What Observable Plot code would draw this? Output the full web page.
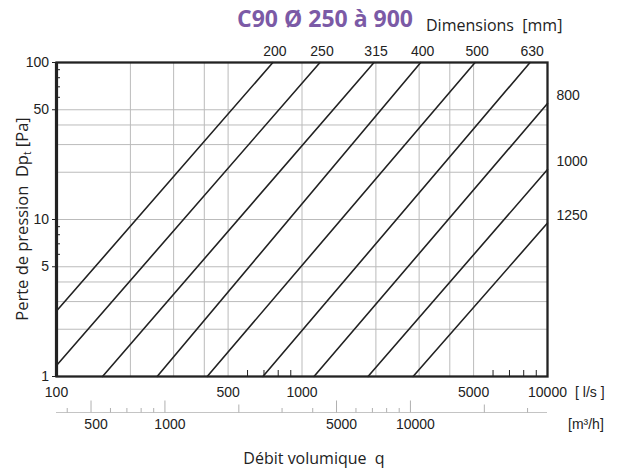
<!DOCTYPE html>
<html><head><meta charset="utf-8">
<script src="https://cdn.jsdelivr.net/npm/d3@7"></script>
<script src="https://cdn.jsdelivr.net/npm/@observablehq/plot@0.6"></script>
<style>body{margin:0;background:#fff} svg{display:block}</style>
</head><body><div id="chart"></div>
<script>
// Duct dimensions [mm] and the two end points of each pressure-loss line (l/s, Pa)
const dims   = [200, 250, 315, 400, 500, 630, 800, 1000, 1250];
const qStart = [100, 100, 154, 257, 411, 693, 1119, 1857, 2834];
const pStart = [2.61, 1.175, 1, 1, 1, 1, 1, 1, 1];
const qEnd   = [761, 1184, 1965, 3045, 5070, 8492, 10000, 10000, 10000];
const pEnd   = [100, 100, 100, 100, 100, 100, 54.8, 20.8, 9.49];

// axes
const xTicks = [100, 500, 1000, 5000, 10000];
const xMinor = [600, 700, 800, 900, 6000, 7000, 8000, 9000];
const xGrid  = [200, 300, 400, 500, 1000, 2000, 3000, 4000, 5000];
const yTicks = [1, 5, 10, 50, 100];
const yMinor = [6, 7, 8, 9, 60, 70, 80, 90];
const yGrid  = [2, 3, 4, 5, 10, 20, 30, 40, 50];
const m3hTicks  = [400, 500, 600, 700, 800, 900, 1000, 2000, 3000, 4000, 5000, 6000, 7000, 8000, 9000, 10000, 20000, 30000];
const m3hLabels = [500, 1000, 5000, 10000];
const m3hMid    = [2000, 20000];
const M3H_PER_LS = 3.6;

const lines = dims.flatMap((d, i) => [
  {dim: d, q: qStart[i], p: pStart[i]},
  {dim: d, q: qEnd[i], p: pEnd[i]}
]);
const ends = dims.map((d, i) => ({dim: d, q: qEnd[i], p: pEnd[i]}));
const topLabels = ends.filter(d => d.p === 100);
const rightLabels = ends.filter(d => d.p < 100);

const ink = "#222";
const gridC = "#bbbbbb";

const chart = Plot.plot({
  width: 618, height: 470,
  marginLeft: 56, marginRight: 71, marginTop: 62, marginBottom: 94,
  style: {fontFamily: "'Liberation Sans', Arial, sans-serif", fontSize: "14px", color: ink, background: "#fff"},
  x: {type: "log", domain: [100, 10000]},
  y: {type: "log", domain: [1, 100]},
  marks: [
    Plot.ruleX(xGrid, {stroke: gridC, strokeWidth: 1}),
    Plot.ruleY(yGrid, {stroke: gridC, strokeWidth: 1}),
    Plot.axisY({ticks: yTicks, tickSize: 4, tickPadding: 3.5, tickFormat: d => String(d), label: null, fontSize: 14}),
    Plot.axisY({ticks: yMinor, tickSize: -4, tickFormat: () => "", label: null}),
    Plot.axisX({ticks: xTicks, tickSize: 0, tickPadding: 11, tickFormat: d => String(d), label: null, fontSize: 14}),
    Plot.axisX({ticks: xMinor, tickSize: -6, tickFormat: () => "", label: null}),
    Plot.line(lines, {x: "q", y: "p", z: "dim", stroke: ink, strokeWidth: 1.6}),
    Plot.frame({stroke: ink, strokeWidth: 2.3}),
    Plot.ruleX([100], {stroke: ink, strokeWidth: 3.2}),
    Plot.text(topLabels, {x: "q", y: "p", text: d => String(d.dim), dx: 2, dy: -11, fontSize: 14, fill: ink}),
    Plot.text(rightLabels, {x: "q", y: "p", text: d => String(d.dim), textAnchor: "start", dx: 9, dy: -8, fontSize: 14, fill: ink})
  ]
});
document.getElementById("chart").appendChild(chart);

// Secondary flow axis in m³/h, positioned through Plot's own x scale
const xs = chart.scale("x");
const svg = d3.select(chart);
const yAx = 412.5;
const g2 = svg.append("g");
g2.append("line")
  .attr("x1", xs.apply(100)).attr("x2", xs.apply(10000))
  .attr("y1", yAx).attr("y2", yAx)
  .attr("stroke", "#c4c4c4").attr("stroke-width", 1.2);
g2.selectAll("line.t").data(m3hTicks).join("line").attr("class", "t")
  .attr("x1", d => xs.apply(d / M3H_PER_LS)).attr("x2", d => xs.apply(d / M3H_PER_LS))
  .attr("y1", yAx).attr("y2", d => yAx - (m3hLabels.includes(d) ? 12 : m3hMid.includes(d) ? 8 : 4.5))
  .attr("stroke", "#b0b0b0").attr("stroke-width", 1);
g2.selectAll("text").data(m3hLabels).join("text")
  .attr("x", d => xs.apply(d / M3H_PER_LS) + 5).attr("y", 429)
  .attr("text-anchor", "middle")
  .attr("font-family", "'Liberation Sans', Arial, sans-serif").attr("font-size", 14).attr("fill", ink)
  .text(d => String(d));

const txt = (x, y, s, opts = {}) => {
  const t = svg.append("text").attr("x", x).attr("y", y)
    .attr("font-family", opts.family || "'Liberation Sans', Arial, sans-serif")
    .attr("font-size", opts.size || 14)
    .attr("fill", opts.fill || ink)
    .attr("text-anchor", opts.anchor || "start");
  if (opts.weight) t.attr("font-weight", opts.weight);
  t.text(s);
  return t;
};
txt(575, 397, "[ l/s ]");
txt(568, 429, "[m³/h]");
txt(325, 27, "C90 Ø 250 à 900", {family: "'Open Sans', sans-serif", size: 23, weight: "bold", fill: "#7b5aa6", anchor: "middle"});
txt(426, 31, "Dimensions  [mm]", {family: "'Open Sans', sans-serif", size: 16});
txt(314, 464, "Débit volumique  q", {family: "'Open Sans', sans-serif", size: 16, anchor: "middle"});

const yl = svg.append("text")
  .attr("transform", "translate(28,219) rotate(-90)")
  .attr("text-anchor", "middle")
  .attr("font-family", "'Open Sans', sans-serif").attr("font-size", 16.5).attr("fill", ink);
yl.append("tspan").text("Perte de pression  Dp");
yl.append("tspan").attr("font-size", 10).attr("dy", 3).text("t");
yl.append("tspan").attr("dy", -3).text(" [Pa]");
</script>
</body></html>
